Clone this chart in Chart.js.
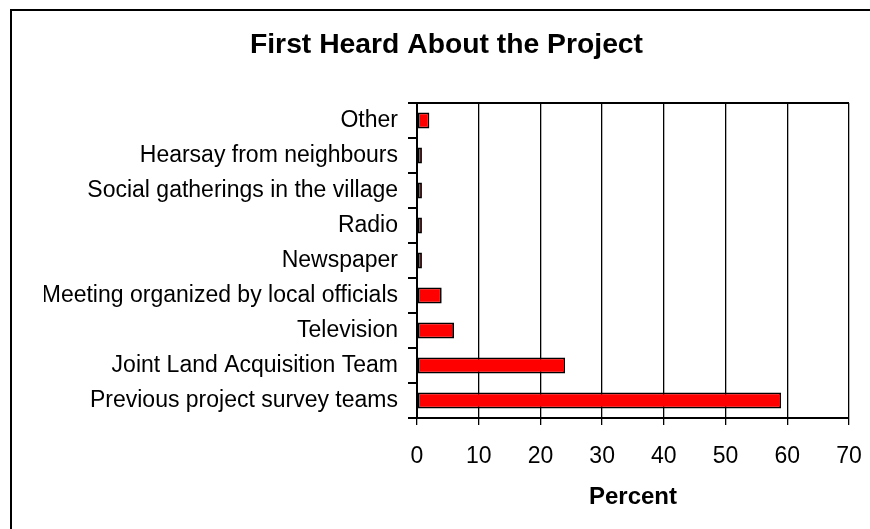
<!DOCTYPE html>
<html>
<head>
<meta charset="utf-8">
<script src="https://cdn.jsdelivr.net/npm/chart.js@4/dist/chart.umd.min.js"></script>
<style>
    body { margin: 0; background: #fff; }
    #wrap { width: 870px; height: 529px; position: relative; }
</style>
</head>
<body>
<div id="wrap"><canvas id="sources-chart"></canvas></div>
<script>
// Where respondents first heard about the project (percent)
const categories = [
    'Other',
    'Hearsay from neighbours',
    'Social gatherings in the village',
    'Radio',
    'Newspaper',
    'Meeting organized by local officials',
    'Television',
    'Joint Land Acquisition Team',
    'Previous project survey teams'
];
const percentValues = [2, 0.8, 0.8, 0.8, 0.8, 4, 6, 24, 59];
const percentTicks = [0, 10, 20, 30, 40, 50, 60, 70];

const fontFamily = '"Liberation Sans", Arial, Helvetica, sans-serif';

// Outer frame (left + top edge) and the top line of the plot box
const framePlugin = {
    id: 'frame',
    beforeDraw(chart) {
        const ctx = chart.ctx;
        ctx.save();
        ctx.fillStyle = '#fff';
        ctx.fillRect(0, 0, chart.width, chart.height);
        ctx.fillStyle = '#000';
        ctx.fillRect(10, 9, chart.width - 10, 2);
        ctx.fillRect(10, 9, 2, chart.height - 9);
        ctx.restore();
    },
    afterDatasetsDraw(chart) {
        const { ctx, chartArea } = chart;
        ctx.save();
        ctx.strokeStyle = '#000';
        ctx.lineWidth = 2;
        ctx.beginPath();
        ctx.moveTo(chartArea.left - 9, chartArea.top);
        ctx.lineTo(chartArea.right, chartArea.top);
        ctx.stroke();
        ctx.restore();
    }
};

new Chart(document.getElementById('sources-chart'), {
    type: 'bar',
    data: {
        labels: categories,
        datasets: [{
            label: 'Percent',
            data: percentValues,
            backgroundColor: '#ff0000',
            borderColor: '#000',
            borderWidth: 1.8,
            borderSkipped: false,
            barPercentage: 0.46,
            categoryPercentage: 1
        }]
    },
    options: {
        indexAxis: 'y',
        responsive: true,
        maintainAspectRatio: false,
        animation: false,
        layout: {
            padding: { left: 44, right: 21, top: 0, bottom: 17 }
        },
        plugins: {
            legend: { display: false },
            tooltip: { enabled: false },
            title: {
                display: true,
                text: 'First Heard About the Project',
                color: '#000',
                font: { family: fontFamily, size: 28.3, weight: 'bold', lineHeight: 1.2 },
                padding: { top: 28, bottom: 41 }
            }
        },
        scales: {
            x: {
                min: 0,
                max: 70,
                afterBuildTicks(scale) {
                    scale.ticks = percentTicks.map(v => ({ value: v }));
                },
                afterFit(scale) {
                    // fixed axis band; the "70" label may hang past the plot edge
                    scale.height = 94;
                    scale.paddingRight = 0;
                },
                grid: {
                    color: '#000',
                    lineWidth: 1.3,
                    drawTicks: true,
                    tickLength: 7
                },
                border: { color: '#000', width: 2 },
                ticks: {
                    color: '#000',
                    padding: 18,
                    maxRotation: 0,
                    font: { family: fontFamily, size: 23, lineHeight: 1.2 }
                },
                title: {
                    display: true,
                    text: 'Percent',
                    color: '#000',
                    font: { family: fontFamily, size: 24, weight: 'bold', lineHeight: 1.2 },
                    padding: { top: 14, bottom: 0 }
                }
            },
            y: {
                afterFit(scale) {
                    scale.width = 373;
                },
                grid: {
                    drawOnChartArea: false,
                    drawTicks: true,
                    tickLength: 9,
                    color: '#000',
                    lineWidth: 2
                },
                border: { color: '#000', width: 2 },
                ticks: {
                    color: '#000',
                    padding: 10,
                    autoSkip: false,
                    font: { family: fontFamily, size: 23, lineHeight: 1.2 }
                }
            }
        }
    },
    plugins: [framePlugin]
});
</script>
</body>
</html>
